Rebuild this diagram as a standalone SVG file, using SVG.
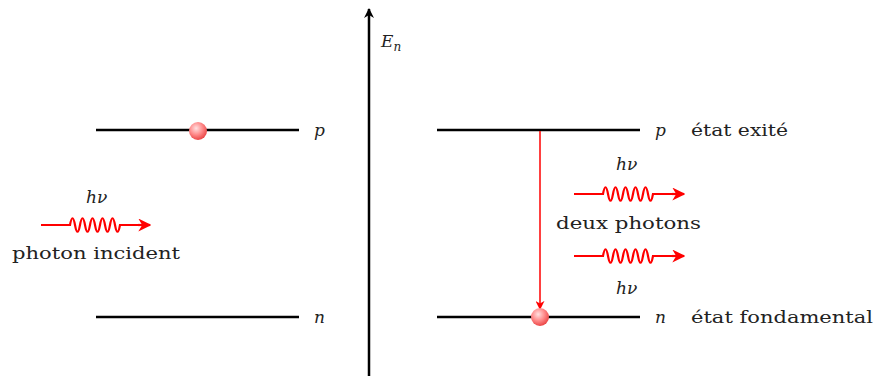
<svg xmlns="http://www.w3.org/2000/svg" width="875" height="376" viewBox="0 0 875 376">
<defs>
<radialGradient id="ball" cx="0.4" cy="0.35" r="0.7">
<stop offset="0" stop-color="#ffe0e0"/>
<stop offset="0.5" stop-color="#ff8c8c"/>
<stop offset="1" stop-color="#e83c3c"/>
</radialGradient>
<marker id="ah" viewBox="0 0 10 10" refX="9" refY="5" markerWidth="10" markerHeight="10" markerUnits="userSpaceOnUse" orient="auto">
<path d="M0,0 L10,5 L0,10 L3,5 Z" fill="#000"/>
</marker>
<marker id="rah" viewBox="0 0 10 10" refX="9" refY="5" markerWidth="9" markerHeight="9" markerUnits="userSpaceOnUse" orient="auto">
<path d="M0,0 L10,5 L0,10 L3,5 Z" fill="#ff0000"/>
</marker>
<marker id="rah2" viewBox="0 0 10 10" refX="9" refY="5" markerWidth="13" markerHeight="13" markerUnits="userSpaceOnUse" orient="auto">
<path d="M0,0 L10,5 L0,10 L3,5 Z" fill="#ff0000"/>
</marker>
<path id="photon" d="M0,0 H29 c1.7,-9 3.3,-9 5,0 c1.7,9 3.3,9 5,0 c1.7,-9 3.3,-9 5,0 c1.7,9 3.3,9 5,0 c1.7,-9 3.3,-9 5,0 c1.7,9 3.3,9 5,0 c1.7,-9 3.3,-9 5,0 c1.7,9 3.3,9 5,0 c1.7,-9 3.3,-9 5,0 c1.7,9 3.3,9 5,0 H107" fill="none" stroke="#ff0000" stroke-width="2.2"/>
</defs>
<style>
.lvl{stroke:#000;stroke-width:2.5}
.t{font-family:"DejaVu Serif","Liberation Serif",serif;font-size:17px;fill:#222}
.i{font-family:"DejaVu Serif","Liberation Serif",serif;font-size:17px;font-style:italic;fill:#222}
</style>
<g id="axis">
<line x1="369" y1="376" x2="369" y2="9" stroke="#000" stroke-width="2.5" marker-end="url(#ah)"/>
<text class="i" x="381" y="47" font-size="16">E<tspan font-size="12" dy="4">n</tspan></text>
</g>
<g id="left-p">
<line class="lvl" x1="96" y1="130" x2="299" y2="130"/>
<text class="i" x="314" y="136">p</text>
<circle cx="198" cy="131" r="9" fill="url(#ball)"/>
</g>
<g id="left-n">
<line class="lvl" x1="96" y1="317" x2="299" y2="317"/>
<text class="i" x="314" y="323">n</text>
</g>
<g id="right-p">
<line class="lvl" x1="437" y1="130" x2="640" y2="130"/>
<text class="i" x="655" y="136">p</text>
<text class="t" x="691" y="136" textLength="97" lengthAdjust="spacingAndGlyphs">état exité</text>
</g>
<g id="right-n">
<line class="lvl" x1="437" y1="317" x2="640" y2="317"/>
<text class="i" x="655" y="323">n</text>
<text class="t" x="691" y="323" textLength="182" lengthAdjust="spacingAndGlyphs">état fondamental</text>
</g>
<g id="connectors">
<line x1="540" y1="131" x2="540" y2="309" stroke="#ff0000" stroke-width="1.5" marker-end="url(#rah)"/>
</g>
<circle id="electron-n" cx="540" cy="317" r="9" fill="url(#ball)"/>
<g id="photon-incident">
<text class="i" x="86" y="203">hν</text>
<g transform="translate(41,225)"><use href="#photon"/></g>
<line x1="138" y1="225" x2="150" y2="225" stroke="#ff0000" stroke-width="2.2" marker-end="url(#rah2)"/>
<text class="t" x="12" y="259" textLength="168" lengthAdjust="spacingAndGlyphs">photon incident</text>
</g>
<g id="photons-out">
<text class="i" x="616" y="170">hν</text>
<g transform="translate(574,194)"><use href="#photon"/></g>
<line x1="672" y1="194" x2="684" y2="194" stroke="#ff0000" stroke-width="2.2" marker-end="url(#rah2)"/>
<text class="t" x="556" y="229" textLength="145" lengthAdjust="spacingAndGlyphs">deux photons</text>
<g transform="translate(574,256)"><use href="#photon"/></g>
<line x1="672" y1="256" x2="684" y2="256" stroke="#ff0000" stroke-width="2.2" marker-end="url(#rah2)"/>
<text class="i" x="616" y="294">hν</text>
</g>
</svg>
